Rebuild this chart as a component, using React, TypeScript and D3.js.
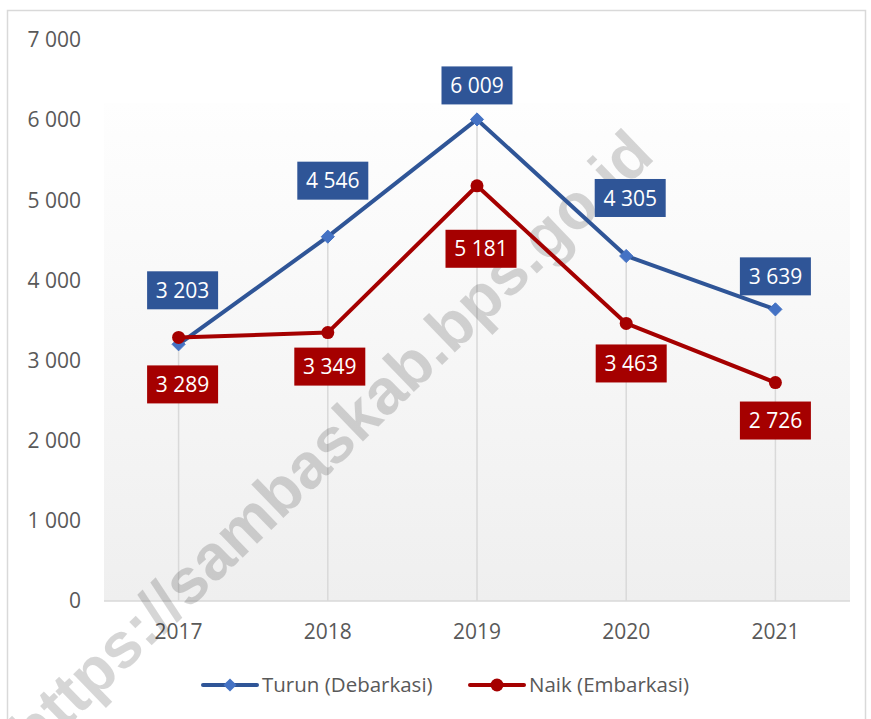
import React, { useEffect, useRef } from 'react';
import * as d3 from 'd3';

// data
const years = ['2017', '2018', '2019', '2020', '2021'];
const turun = [3203, 4546, 6009, 4305, 3639]; // Debarkasi
const naik = [3289, 3349, 5181, 3463, 2726]; // Embarkasi
const yTicks = [0, 1000, 2000, 3000, 4000, 5000, 6000, 7000];

// label offsets relative to the point (px), so labels dodge each other like in Excel
const turunLabelDy = [-54, -56, -34, -58, -33];
const turunLabelDx = [4, 5, 0, 4, 0];
const naikLabelDy = [47, 34, 63, 40, 38];
const naikLabelDx = [4, 2, 4, 5, 0];

const BLUE = '#2f5597';
const BLUE_MARK = '#4472c4';
const RED = '#a50000';
const FONT = '"Open Sans", "DejaVu Sans", sans-serif';

const fmt = (v: number) => d3.format(',')(v).replace(/,/g, ' ');

const App = () => {
  const svgRef = useRef<SVGSVGElement>(null);

  useEffect(() => {
    const W = 871;
    const H = 719;
    const margin = { top: 40, right: 21, bottom: 118, left: 104 };
    const innerH = H - margin.top - margin.bottom;

    const svg = d3.select(svgRef.current);
    svg.selectAll('*').remove();

    // outer chart frame
    svg
      .append('rect')
      .attr('x', 7.5)
      .attr('y', 10.5)
      .attr('width', 858)
      .attr('height', 720)
      .attr('fill', 'white')
      .attr('stroke', '#d9d9d9')
      .attr('stroke-width', 1.5);

    const defs = svg.append('defs');
    const grad = defs
      .append('linearGradient')
      .attr('id', 'plotBg')
      .attr('x1', 0)
      .attr('y1', 0)
      .attr('x2', 0)
      .attr('y2', 1);
    grad.append('stop').attr('offset', '0%').attr('stop-color', '#fefefe');
    grad.append('stop').attr('offset', '100%').attr('stop-color', '#efefef');

    const x = d3
      .scaleBand()
      .domain(years)
      .range([margin.left, W - margin.right]);

    const y = d3
      .scaleLinear()
      .domain([0, 7000])
      .range([margin.top + innerH, margin.top]);

    const cx = (d: string) => (x(d) as number) + x.bandwidth() / 2;

    // plot area background
    svg
      .append('rect')
      .attr('x', margin.left)
      .attr('y', 103)
      .attr('width', W - margin.right - margin.left)
      .attr('height', y(0) - 103)
      .attr('fill', 'url(#plotBg)');

    // drop lines
    svg
      .append('g')
      .selectAll('line')
      .data(years)
      .enter()
      .append('line')
      .attr('x1', (d) => cx(d))
      .attr('x2', (d) => cx(d))
      .attr('y1', (d, i) => y(Math.max(turun[i], naik[i])))
      .attr('y2', y(0))
      .attr('stroke', '#d9d9d9')
      .attr('stroke-width', 1.5);

    // x axis line
    svg
      .append('line')
      .attr('x1', margin.left)
      .attr('x2', W - margin.right)
      .attr('y1', y(0))
      .attr('y2', y(0))
      .attr('stroke', '#d9d9d9')
      .attr('stroke-width', 1.5);

    // y labels
    svg
      .append('g')
      .selectAll('text')
      .data(yTicks)
      .enter()
      .append('text')
      .attr('x', 81)
      .attr('y', (d) => y(d))
      .attr('dy', '0.35em')
      .attr('text-anchor', 'end')
      .attr('font-family', FONT)
      .attr('font-size', 21)
      .attr('fill', '#595959')
      .text((d) => fmt(d));

    // x labels
    svg
      .append('g')
      .selectAll('text')
      .data(years)
      .enter()
      .append('text')
      .attr('x', (d) => cx(d))
      .attr('y', 632)
      .attr('dy', '0.35em')
      .attr('text-anchor', 'middle')
      .attr('font-family', FONT)
      .attr('font-size', 21)
      .attr('fill', '#595959')
      .text((d) => d);

    // watermark
    svg
      .append('text')
      .attr('transform', 'translate(330,442) rotate(-44)')
      .attr('text-anchor', 'middle')
      .attr('dy', '0.35em')
      .attr('font-family', '"Liberation Sans", Arial, sans-serif')
      .attr('font-weight', 'bold')
      .attr('font-size', 64)
      .attr('fill', '#000')
      .attr('fill-opacity', 0.16)
      .text('https://sambaskab.bps.go.id');

    const line = d3
      .line<number>()
      .x((d, i) => cx(years[i]))
      .y((d) => y(d));

    // Turun series
    svg
      .append('path')
      .datum(turun)
      .attr('fill', 'none')
      .attr('stroke', BLUE)
      .attr('stroke-width', 4)
      .attr('stroke-linejoin', 'round')
      .attr('d', line);

    svg
      .append('g')
      .selectAll('path')
      .data(turun)
      .enter()
      .append('path')
      .attr('d', d3.symbol().type(d3.symbolDiamond2).size(110))
      .attr('transform', (d, i) => `translate(${cx(years[i])},${y(d)})`)
      .attr('fill', BLUE_MARK)
      .attr('stroke', BLUE_MARK)
      .attr('stroke-width', 1);

    // Naik series
    svg
      .append('path')
      .datum(naik)
      .attr('fill', 'none')
      .attr('stroke', RED)
      .attr('stroke-width', 4)
      .attr('stroke-linejoin', 'round')
      .attr('d', line);

    svg
      .append('g')
      .selectAll('circle')
      .data(naik)
      .enter()
      .append('circle')
      .attr('cx', (d, i) => cx(years[i]))
      .attr('cy', (d) => y(d))
      .attr('r', 6.5)
      .attr('fill', RED);

    // data labels
    const drawLabels = (vals: number[], dxs: number[], dys: number[], color: string) => {
      const g = svg
        .append('g')
        .selectAll('g')
        .data(vals)
        .enter()
        .append('g')
        .attr(
          'transform',
          (d, i) => `translate(${cx(years[i]) + dxs[i]},${y(d) + dys[i]})`
        );
      g.append('rect')
        .attr('x', -35.5)
        .attr('y', -19)
        .attr('width', 71)
        .attr('height', 38)
        .attr('fill', color);
      g.append('text')
        .attr('text-anchor', 'middle')
        .attr('dy', '0.36em')
        .attr('font-family', FONT)
        .attr('font-size', 21)
        .attr('fill', 'white')
        .text((d) => fmt(d));
    };
    drawLabels(turun, turunLabelDx, turunLabelDy, BLUE);
    drawLabels(naik, naikLabelDx, naikLabelDy, RED);

    // legend
    const legend = svg.append('g').attr('transform', 'translate(0,685)');
    const items = [
      { name: 'Turun (Debarkasi)', color: BLUE, x0: 203, marker: 'diamond' },
      { name: 'Naik (Embarkasi)', color: RED, x0: 470, marker: 'circle' }
    ];
    items.forEach((it) => {
      legend
        .append('line')
        .attr('x1', it.x0)
        .attr('x2', it.x0 + 54)
        .attr('stroke', it.color)
        .attr('stroke-width', 4)
        .attr('stroke-linecap', 'round');
      if (it.marker === 'diamond') {
        legend
          .append('path')
          .attr('d', d3.symbol().type(d3.symbolDiamond2).size(110))
          .attr('transform', `translate(${it.x0 + 27},0)`)
          .attr('fill', BLUE_MARK);
      } else {
        legend
          .append('circle')
          .attr('cx', it.x0 + 27)
          .attr('r', 6.5)
          .attr('fill', it.color);
      }
      legend
        .append('text')
        .attr('x', it.x0 + 59)
        .attr('dy', '0.35em')
        .attr('font-family', FONT)
        .attr('font-size', 20.5)
        .attr('fill', '#595959')
        .text(it.name);
    });
  }, []);

  return (
    <svg
      ref={svgRef}
      width={871}
      height={719}
      style={{ position: 'absolute', left: 0, top: 0 }}
    />
  );
};

export default App;
